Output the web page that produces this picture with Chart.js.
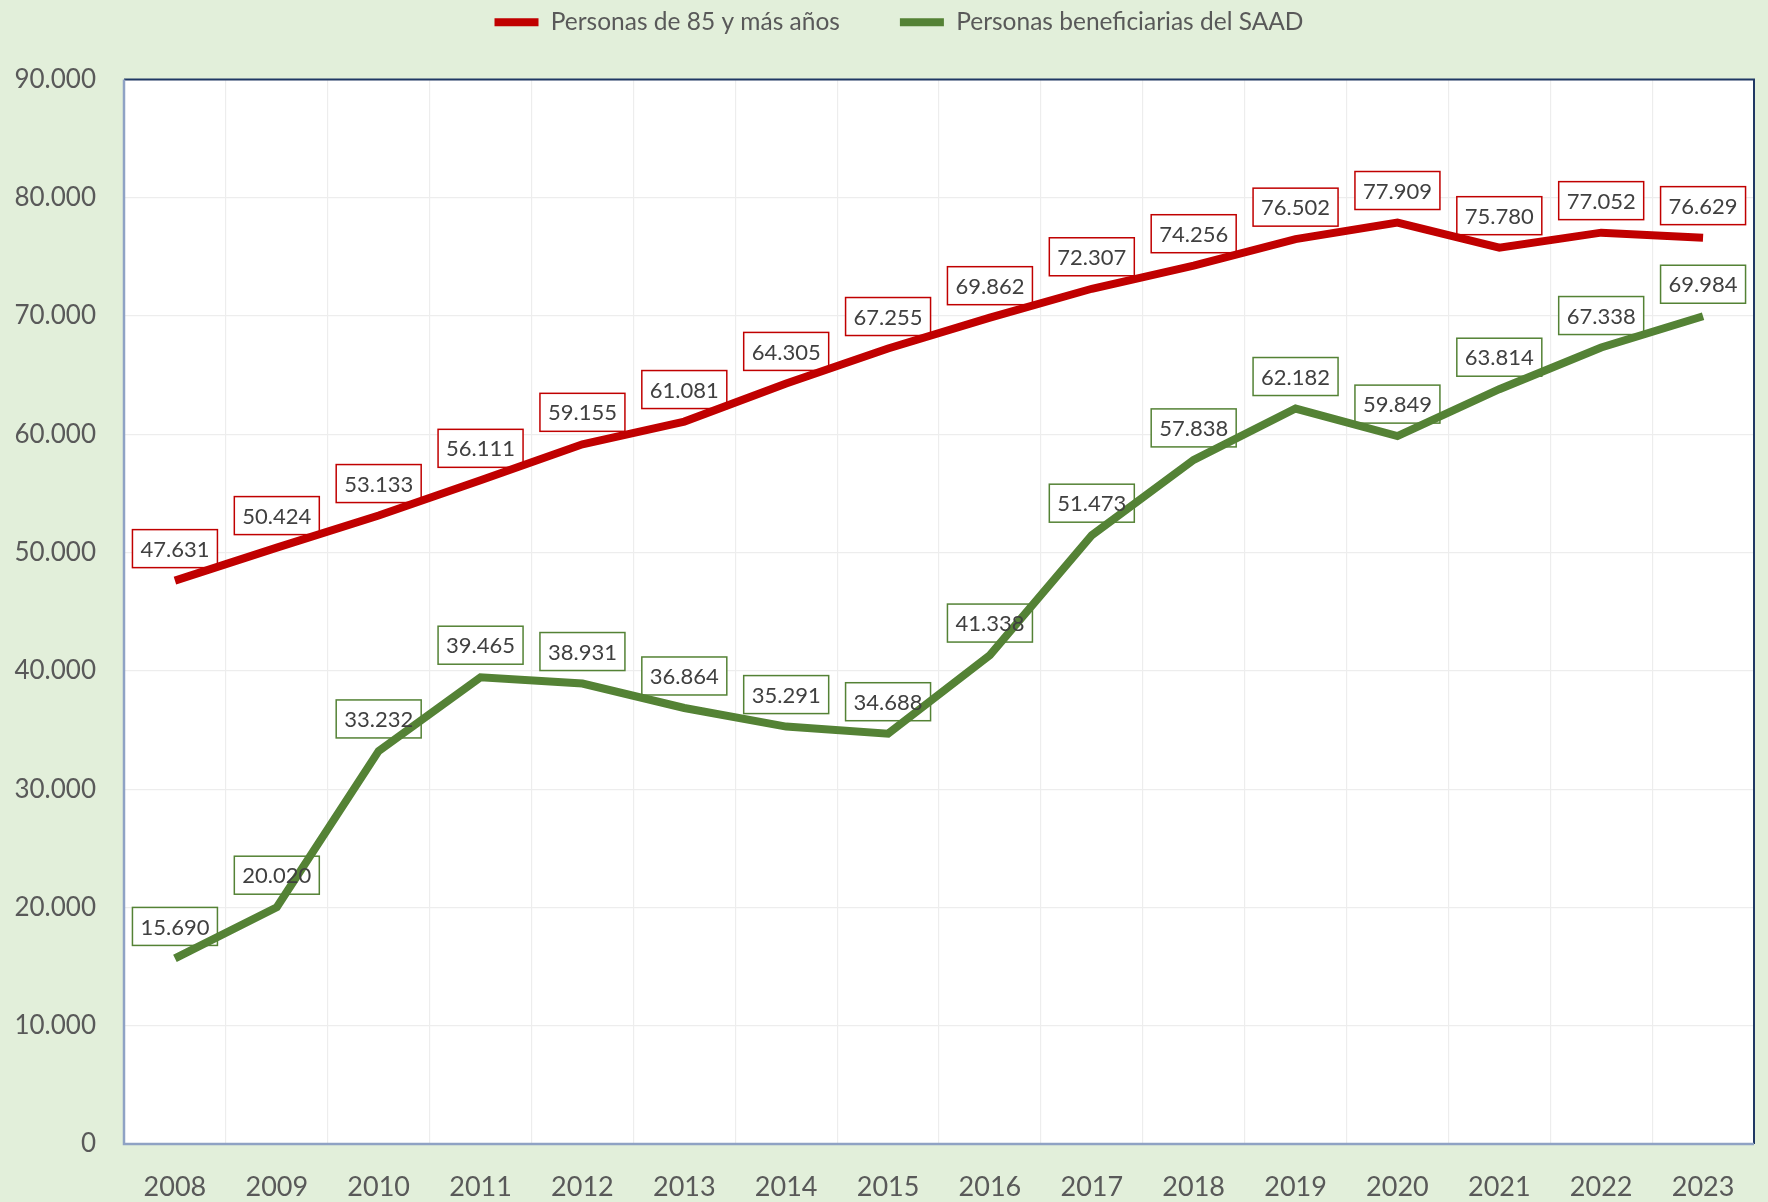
<!DOCTYPE html>
<html>
<head>
<meta charset="utf-8">
<script src="https://cdn.jsdelivr.net/npm/chart.js@4.4.1/dist/chart.umd.min.js"></script>
<style>
html, body { margin: 0; padding: 0; background: #E2EFDA; }
#wrap { width: 1768px; height: 1202px; }
</style>
</head>
<body>
<div id="wrap"><canvas id="chart" width="1768" height="1202"></canvas></div>
<script>
// data
const years = ["2008", "2009", "2010", "2011", "2012", "2013", "2014", "2015",
  "2016", "2017", "2018", "2019", "2020", "2021", "2022", "2023"];
const mayores85 = [47631, 50424, 53133, 56111, 59155, 61081, 64305, 67255,
  69862, 72307, 74256, 76502, 77909, 75780, 77052, 76629];
const beneficiariosSAAD = [15690, 20020, 33232, 39465, 38931, 36864, 35291, 34688,
  41338, 51473, 57838, 62182, 59849, 63814, 67338, 69984];
const yMin = 0, yMax = 90000, yStep = 10000;

const RED = "#C00000";
const GREEN = "#548235";
const TEXT = "#595959";
const FONT = "Lato, 'Liberation Sans', sans-serif";

function fmt(v) {
  return String(Math.round(v)).replace(/\B(?=(\d{3})+(?!\d))/g, ".");
}

// page + plot area background, plot borders
const frame = {
  id: "frame",
  afterLayout(chart) {
    // legend sits a little right of centre in the reference
    chart.legend.left += 22;
    chart.legend.right += 22;
  },
  beforeDraw(chart) {
    const ctx = chart.ctx, a = chart.chartArea;
    ctx.save();
    ctx.fillStyle = "#E2EFDA";
    ctx.fillRect(0, 0, chart.width, chart.height);
    ctx.fillStyle = "#FFFFFF";
    ctx.fillRect(a.left, a.top, a.right - a.left, a.bottom - a.top);
    ctx.restore();
  },
  afterDraw(chart) {
    const ctx = chart.ctx, a = chart.chartArea;
    ctx.save();
    ctx.lineWidth = 2;
    ctx.strokeStyle = "#203864";
    ctx.beginPath();
    ctx.moveTo(a.left, a.top);
    ctx.lineTo(a.right, a.top);
    ctx.lineTo(a.right, a.bottom);
    ctx.stroke();
    ctx.lineWidth = 2.5;
    ctx.strokeStyle = "#8FA2C4";
    ctx.beginPath();
    ctx.moveTo(a.left, a.top);
    ctx.lineTo(a.left, a.bottom);
    ctx.lineTo(a.right, a.bottom);
    ctx.stroke();
    ctx.restore();
  }
};

// boxed value labels: box under the lines, text above them
function drawLabels(chart, textPass) {
  const ctx = chart.ctx;
  ctx.save();
  ctx.font = "22px " + FONT;
  chart.data.datasets.forEach(function (ds, i) {
    const meta = chart.getDatasetMeta(i);
    meta.data.forEach(function (pt, j) {
      const txt = fmt(ds.data[j]);
      const w = ctx.measureText(txt).width + 16;
      const h = 38;
      const cx = pt.x;
      const bottom = pt.y - 13;
      if (!textPass) {
        ctx.fillStyle = "#FFFFFF";
        ctx.fillRect(cx - w / 2, bottom - h, w, h);
        ctx.lineWidth = 1.5;
        ctx.strokeStyle = ds.borderColor;
        ctx.strokeRect(cx - w / 2, bottom - h, w, h);
      } else {
        ctx.fillStyle = "#404040";
        ctx.textAlign = "center";
        ctx.textBaseline = "middle";
        ctx.fillText(txt, cx, bottom - h / 2 + 1);
      }
    });
  });
  ctx.restore();
}

const boxLabels = {
  id: "boxLabels",
  beforeDatasetsDraw(chart) { drawLabels(chart, false); },
  afterDatasetsDraw(chart) { drawLabels(chart, true); }
};

const ctx = document.getElementById("chart").getContext("2d");
const chart = new Chart(ctx, {
  type: "line",
  data: {
    labels: years,
    datasets: [{
      label: "Personas de 85 y más años",
      data: mayores85,
      borderColor: RED,
      backgroundColor: RED,
      borderWidth: 8,
      pointRadius: 0,
      tension: 0,
      fill: false
    }, {
      label: "Personas beneficiarias del SAAD",
      data: beneficiariosSAAD,
      borderColor: GREEN,
      backgroundColor: GREEN,
      borderWidth: 8,
      pointRadius: 0,
      tension: 0,
      fill: false
    }]
  },
  options: {
    responsive: false,
    animation: false,
    layout: { padding: { top: -50, right: 14, bottom: 0, left: 0 } },
    plugins: {
      legend: {
        position: "top",
        labels: {
          color: TEXT,
          font: { family: FONT, size: 24.5 },
          boxWidth: 44,
          boxHeight: 8,
          padding: 60,
          generateLabels(chart) {
            const items = Chart.defaults.plugins.legend.labels.generateLabels(chart);
            items.forEach(function (it) { it.lineWidth = 0; });
            return items;
          }
        }
      },
      subtitle: {
        display: true,
        text: " ",
        weight: 500,
        font: { size: 10 },
        padding: { top: 11.5, bottom: 11.5 }
      },
      tooltip: { enabled: false }
    },
    scales: {
      x: {
        offset: true,
        grid: { color: "#EDEDED", lineWidth: 1.2, offset: true, drawTicks: false },
        border: { display: false },
        ticks: { color: TEXT, font: { family: FONT, size: 27 }, padding: 27, maxRotation: 0 },
        afterFit(scale) { scale.height = 58; }
      },
      y: {
        min: yMin,
        max: yMax,
        grid: { color: "#EDEDED", lineWidth: 1.2, drawTicks: false },
        border: { display: false },
        ticks: {
          stepSize: yStep,
          color: TEXT,
          font: { family: FONT, size: 26 },
          padding: 28,
          callback: function (v) { return fmt(v); }
        },
        afterFit(scale) { scale.width = 124; }
      }
    }
  },
  plugins: [frame, boxLabels]
});
</script>
</body>
</html>
